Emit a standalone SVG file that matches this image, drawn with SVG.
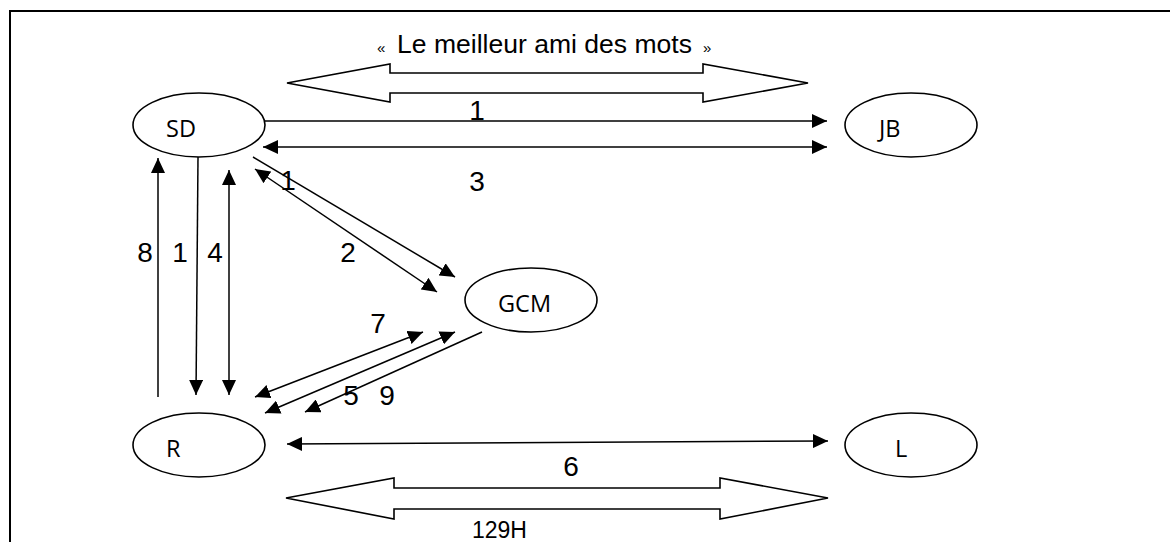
<svg xmlns="http://www.w3.org/2000/svg" width="1170" height="542" viewBox="0 0 1170 542">
<style>
.node ellipse{fill:#fff;stroke:#000;stroke-width:1.6}
.node text{font-family:"Open Sans","Liberation Sans",sans-serif;font-size:23.5px;fill:#000}
.conn line{stroke:#000;stroke-width:1.5}
.one{marker-end:url(#ah)}
.two{marker-end:url(#ah);marker-start:url(#ah)}
.lbl{font-family:"Liberation Sans",Arial,sans-serif;font-size:28px;fill:#000;text-anchor:middle}
.block{fill:#fff;stroke:#000;stroke-width:1.6;stroke-linejoin:miter}
</style>
<defs>
<marker id="ah" markerUnits="userSpaceOnUse" markerWidth="16" markerHeight="14" refX="15" refY="7" orient="auto-start-reverse">
<path d="M0,0 L15,7 L0,14 Z" fill="#000"/>
</marker>
</defs>
<rect width="1170" height="542" fill="#fff"/>
<path d="M10,542 V11 H1170" fill="none" stroke="#000" stroke-width="2"/>

<g id="title">
<text font-family="Liberation Sans,Arial,sans-serif" font-size="15" x="377" y="53">«</text>
<text font-family="Liberation Sans,Arial,sans-serif" font-size="25" x="397" y="53" textLength="295" lengthAdjust="spacingAndGlyphs">Le meilleur ami des mots</text>
<text font-family="Liberation Sans,Arial,sans-serif" font-size="15" x="703" y="53">»</text>
</g>

<g id="block-top"><polygon class="block" points="287,83 390,64 390,73 703,73 703,64 808,83 703,102 703,93 390,93 390,102"/></g>
<g id="block-bottom"><polygon class="block" points="286,498 394,478 394,488 720,488 720,478 828,498 720,519 720,509 394,509 394,519"/></g>
<text id="label-129H" font-family="Liberation Sans,Arial,sans-serif" font-size="23" x="472" y="538">129H</text>

<g class="conn" id="connectors">
<line class="one" x1="265" y1="121" x2="827" y2="121"/>
<line class="two" x1="263" y1="147" x2="827" y2="147"/>
<line class="one" x1="158" y1="397" x2="158" y2="158"/>
<line class="one" x1="198" y1="157" x2="196" y2="395"/>
<line class="two" x1="229" y1="170" x2="229" y2="395"/>
<line class="one" x1="253" y1="157" x2="455" y2="277"/>
<line class="two" x1="255" y1="169" x2="437" y2="292"/>
<line class="two" x1="255" y1="397" x2="423" y2="332"/>
<line class="two" x1="265" y1="413" x2="455" y2="332"/>
<line class="one" x1="482" y1="332" x2="305" y2="412"/>
<line class="two" x1="287" y1="444" x2="828" y2="441"/>
</g>

<g id="labels">
<text class="lbl" x="477" y="120">1</text>
<text class="lbl" x="477" y="191">3</text>
<text class="lbl" x="145" y="262">8</text>
<text class="lbl" x="180" y="262">1</text>
<text class="lbl" x="215" y="262">4</text>
<text class="lbl" x="288" y="190">1</text>
<text class="lbl" x="348" y="262">2</text>
<text class="lbl" x="378" y="333">7</text>
<text class="lbl" x="351" y="405">5</text>
<text class="lbl" x="387" y="405">9</text>
<text class="lbl" x="571" y="476">6</text>
</g>

<g id="SD" class="node"><ellipse cx="199" cy="125" rx="66" ry="32"/><text x="166" y="137">SD</text></g>
<g id="JB" class="node"><ellipse cx="911" cy="125" rx="66" ry="32"/><text x="879" y="137">JB</text></g>
<g id="GCM" class="node"><ellipse cx="531" cy="300" rx="66" ry="32"/><text x="498" y="312">GCM</text></g>
<g id="R" class="node"><ellipse cx="199" cy="445" rx="66" ry="32"/><text x="166" y="457">R</text></g>
<g id="L" class="node"><ellipse cx="911" cy="445" rx="66" ry="32"/><text x="895" y="457">L</text></g>
</svg>
